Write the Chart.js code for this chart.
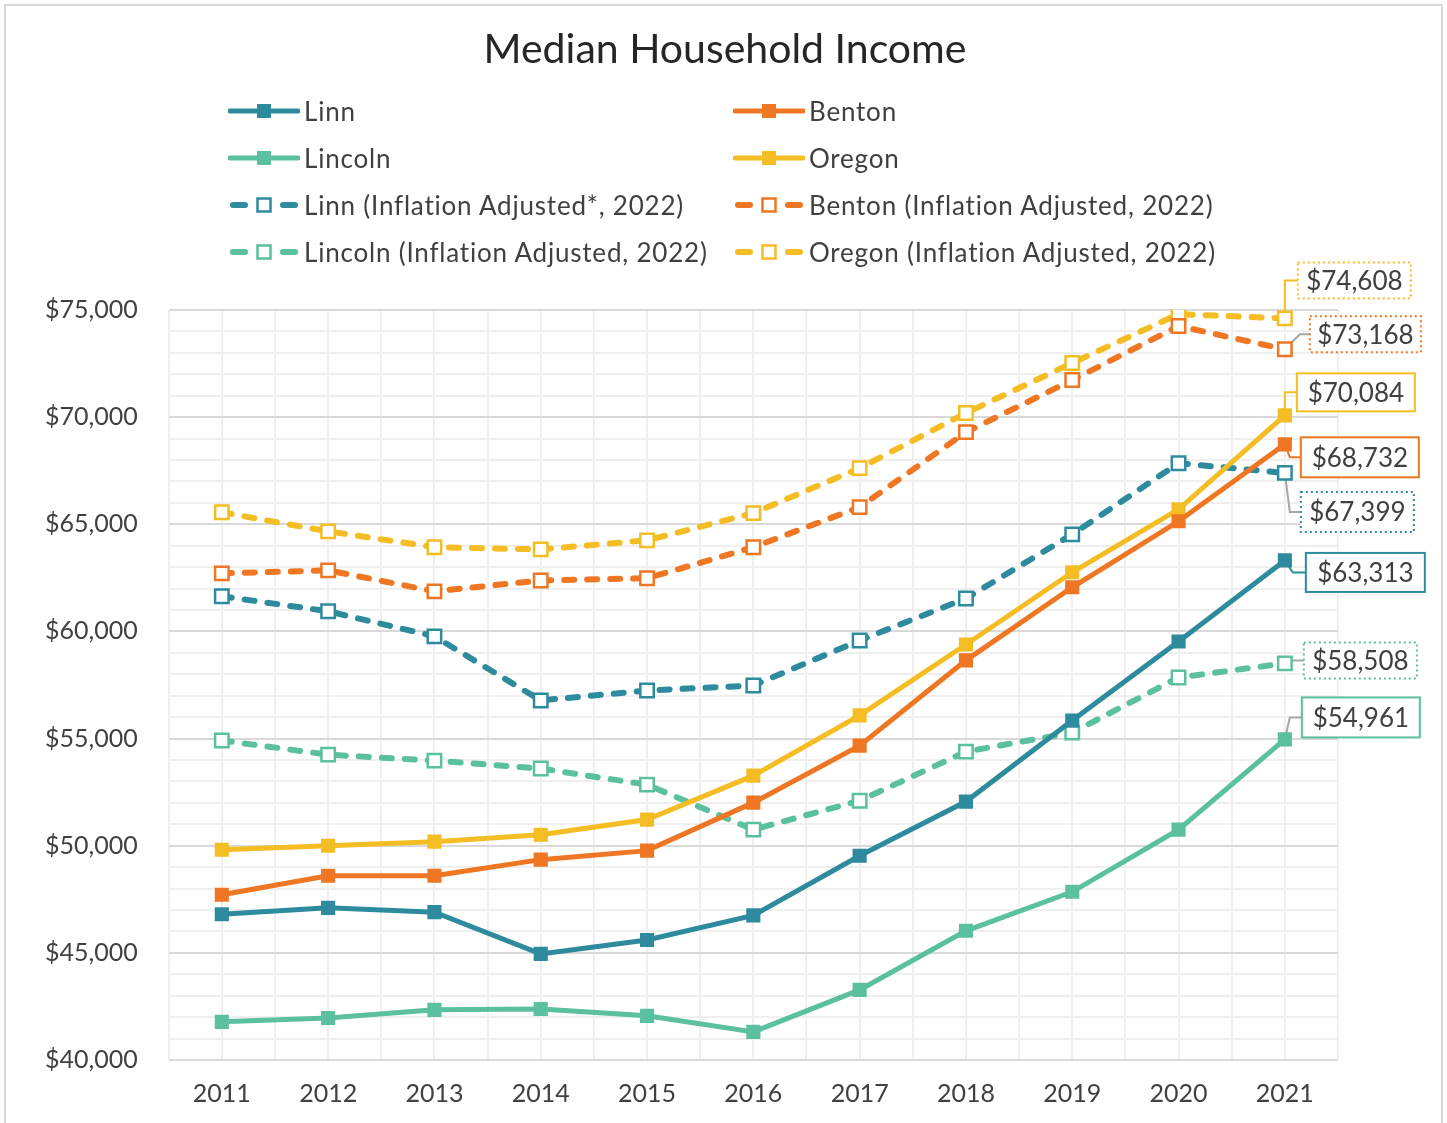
<!DOCTYPE html>
<html>
<head>
<meta charset="utf-8">
<title>Median Household Income</title>
<script src="https://cdn.jsdelivr.net/npm/chart.js@4.4.1/dist/chart.umd.min.js"></script>
<style>
    html, body { margin: 0; padding: 0; background: #fff; }
    #wrap { position: relative; width: 1447px; height: 1123px; overflow: hidden; }
    #frame { position: absolute; left: 4px; top: 4px; width: 1435px; height: 1117px; border: 2px solid #d9d9d9; pointer-events: none; }
    #title { position: absolute; left: 0; width: 1450px; top: 23px; height: 50px; line-height: 50px; text-align: center; font: 41px Lato, "DejaVu Sans", sans-serif; color: #262626; }
    .item { position: absolute; height: 30px; display: flex; align-items: center; font: 26px Lato, "DejaVu Sans", sans-serif; letter-spacing: 0.8px; color: #404040; white-space: nowrap; }
    .item svg { margin-right: 4px; }
</style>
</head>
<body>
<div id="wrap">
    <canvas id="lineChart" width="1447" height="1123"></canvas>
    <div id="title">Median Household Income</div>
    <div id="legend"></div>
    <div id="frame"></div>
</div>
<script>
// Years on the x axis
const years = ['2011', '2012', '2013', '2014', '2015', '2016', '2017', '2018', '2019', '2020', '2021'];

// Median household income, nominal
const linn    = [46800, 47100, 46900, 44950, 45600, 46750, 49530, 52060, 55840, 59530, 63313];
const benton  = [47710, 48600, 48600, 49350, 49770, 52010, 54670, 58650, 62060, 65140, 68732];
const lincoln = [41780, 41960, 42340, 42380, 42060, 41310, 43270, 46030, 47850, 50750, 54961];
const oregon  = [49810, 50000, 50190, 50510, 51220, 53270, 56080, 59390, 62760, 65700, 70084];

// Inflation adjusted to 2022 dollars
const linnAdj    = [61640, 60940, 59770, 56780, 57240, 57480, 59580, 61540, 64530, 67850, 67399];
const bentonAdj  = [62710, 62850, 61870, 62380, 62480, 63930, 65800, 69300, 71730, 74250, 73168];
const lincolnAdj = [54910, 54250, 53970, 53600, 52850, 50750, 52100, 54390, 55280, 57850, 58508];
const oregonAdj  = [65560, 64670, 63930, 63830, 64250, 65520, 67620, 70190, 72530, 74810, 74608];

// y axis range
const yMin = 40000;
const yMax = 75000;

const FONT = 'Lato, "DejaVu Sans", sans-serif';
const TEXT = '#404040';

const colors = {
    linn: '#2E8B9E',
    benton: '#EF7622',
    lincoln: '#5BC09F',
    oregon: '#F4BD24'
};

function solidSeries(label, data, color) {
    return {
        label: label,
        data: data,
        borderColor: color,
        backgroundColor: color,
        borderWidth: 5,
        pointStyle: 'rect',
        pointRadius: 10,
        pointHoverRadius: 10,
        pointBackgroundColor: color,
        pointBorderWidth: 0,
        tension: 0,
        dashed: false
    };
}

function dashedSeries(label, data, color) {
    return {
        label: label,
        data: data,
        borderColor: color,
        backgroundColor: '#ffffff',
        borderWidth: 6,
        borderDash: [10, 13],
        borderCapStyle: 'round',
        pointStyle: 'rect',
        pointRadius: 9.5,
        pointHoverRadius: 9.5,
        pointBackgroundColor: '#ffffff',
        pointBorderColor: color,
        pointBorderWidth: 2.5,
        tension: 0,
        dashed: true
    };
}

const datasets = [
    solidSeries('Linn', linn, colors.linn),
    solidSeries('Benton', benton, colors.benton),
    solidSeries('Lincoln', lincoln, colors.lincoln),
    solidSeries('Oregon', oregon, colors.oregon),
    dashedSeries('Linn (Inflation Adjusted*, 2022)', linnAdj, colors.linn),
    dashedSeries('Benton (Inflation Adjusted, 2022)', bentonAdj, colors.benton),
    dashedSeries('Lincoln (Inflation Adjusted, 2022)', lincolnAdj, colors.lincoln),
    dashedSeries('Oregon (Inflation Adjusted, 2022)', oregonAdj, colors.oregon)
];

// Callout placement for the 2021 value of each series (offsets from the point)
const GREY = '#a6a6a6';
const callouts = [
    { dx: 21, dy: 12, w: 119, h: 39, elbow: 8, leader: null },    // Linn
    { dx: 16, dy: 13, w: 118, h: 40, elbow: 5, leader: null },    // Benton
    { dx: 17, dy: -22, w: 118, h: 40, elbow: 5, leader: GREY },   // Lincoln
    { dx: 12, dy: -23, w: 118, h: 38, elbow: 0, leader: null },   // Oregon
    { dx: 16, dy: 39, w: 113, h: 40, elbow: 5, leader: GREY },    // Linn adj
    { dx: 25, dy: -15, w: 111, h: 36, elbow: 15, leader: GREY },  // Benton adj
    { dx: 19, dy: -3, w: 113, h: 36, elbow: 8, leader: GREY },    // Lincoln adj
    { dx: 13, dy: -38, w: 113, h: 36, elbow: 0, leader: null }    // Oregon adj
];

function money(v) {
    return '$' + Number(v).toLocaleString('en-US');
}

function lastPoint(chart, i) {
    const meta = chart.getDatasetMeta(i);
    return meta.data[meta.data.length - 1];
}

// Draws the boxed value labels at the end of each line
const calloutPlugin = {
    id: 'callouts',
    beforeDatasetsDraw(chart) {
        const ctx = chart.ctx;
        ctx.save();
        chart.data.datasets.forEach((ds, i) => {
            const c = callouts[i];
            const pt = lastPoint(chart, i);
            const ly = pt.y + c.dy;
            ctx.beginPath();
            ctx.strokeStyle = c.leader || ds.borderColor;
            ctx.lineWidth = 2;
            ctx.setLineDash([]);
            ctx.moveTo(pt.x, pt.y);
            ctx.lineTo(pt.x + c.elbow, ly);
            ctx.lineTo(pt.x + c.dx, ly);
            ctx.stroke();
        });
        ctx.restore();
    },
    afterDatasetsDraw(chart) {
        const ctx = chart.ctx;
        ctx.save();
        chart.data.datasets.forEach((ds, i) => {
            const c = callouts[i];
            const pt = lastPoint(chart, i);
            const x = pt.x + c.dx;
            const y = pt.y + c.dy - c.h / 2;
            ctx.fillStyle = '#ffffff';
            ctx.fillRect(x, y, c.w, c.h);
            ctx.strokeStyle = ds.borderColor;
            ctx.lineWidth = 2;
            ctx.setLineDash(ds.dashed ? [2, 3] : []);
            ctx.strokeRect(x, y, c.w, c.h);
            ctx.setLineDash([]);
            ctx.fillStyle = TEXT;
            ctx.font = '26px ' + FONT;
            ctx.textAlign = 'center';
            ctx.textBaseline = 'middle';
            ctx.fillText(money(ds.data[ds.data.length - 1]), x + c.w / 2, y + c.h / 2 + 1);
        });
        ctx.restore();
    }
};

const ctx = document.getElementById('lineChart').getContext('2d');
const chart = new Chart(ctx, {
    type: 'line',
    data: {
        labels: years,
        datasets: datasets
    },
    options: {
        responsive: false,
        animation: false,
        devicePixelRatio: 1,
        layout: {
            padding: { left: 14, right: 109, top: 310, bottom: -5 }
        },
        scales: {
            x: {
                offset: true,
                grid: { display: false, drawTicks: false },
                border: { display: false },
                ticks: {
                    color: TEXT,
                    font: { family: FONT, size: 25 },
                    padding: 19,
                    maxRotation: 0
                }
            },
            // half-category vertical grid, as in the original
            xg: {
                type: 'linear',
                position: 'top',
                min: 0,
                max: years.length * 2,
                grid: { color: '#efefef', lineWidth: 2, drawTicks: false },
                border: { display: false },
                ticks: { display: false, stepSize: 1 }
            },
            y: {
                min: yMin,
                max: yMax,
                border: { display: false },
                grid: {
                    lineWidth: 2,
                    drawTicks: false,
                    color: function(c) {
                        return c.tick.value % 5000 === 0 ? '#d9d9d9' : '#efefef';
                    }
                },
                ticks: {
                    stepSize: 1000,
                    maxTicksLimit: 100,
                    autoSkip: false,
                    padding: 31,
                    color: TEXT,
                    font: { family: FONT, size: 25 },
                    callback: function(value) {
                        return value % 5000 === 0 ? money(value) : '';
                    }
                }
            }
        },
        plugins: {
            legend: { display: false },
            tooltip: { enabled: false },
            title: { display: false }
        }
    },
    plugins: [calloutPlugin]
});

// HTML legend in two columns
const legendCols = [228, 733];
const legendTop = 111;
const legendStep = 47;
const legendEl = document.getElementById('legend');
datasets.forEach((ds, i) => {
    const col = i % 2;
    const row = Math.floor(i / 2);
    const item = document.createElement('div');
    item.className = 'item';
    item.style.left = legendCols[col] + 'px';
    item.style.top = (legendTop + row * legendStep - 15) + 'px';
    let svg;
    if (ds.dashed) {
        svg = '<svg width="72" height="20">' +
            '<line x1="5" y1="10" x2="17" y2="10" stroke="' + ds.borderColor + '" stroke-width="6" stroke-linecap="round"/>' +
            '<line x1="55" y1="10" x2="67" y2="10" stroke="' + ds.borderColor + '" stroke-width="6" stroke-linecap="round"/>' +
            '<rect x="29.5" y="3.5" width="13" height="13" fill="#fff" stroke="' + ds.borderColor + '" stroke-width="2.5"/>' +
            '</svg>';
    } else {
        svg = '<svg width="72" height="20">' +
            '<line x1="2" y1="10" x2="70" y2="10" stroke="' + ds.borderColor + '" stroke-width="5" stroke-linecap="round"/>' +
            '<rect x="29" y="3" width="14" height="14" fill="' + ds.borderColor + '"/>' +
            '</svg>';
    }
    item.innerHTML = svg + '<span>' + ds.label + '</span>';
    legendEl.appendChild(item);
});
</script>
</body>
</html>
